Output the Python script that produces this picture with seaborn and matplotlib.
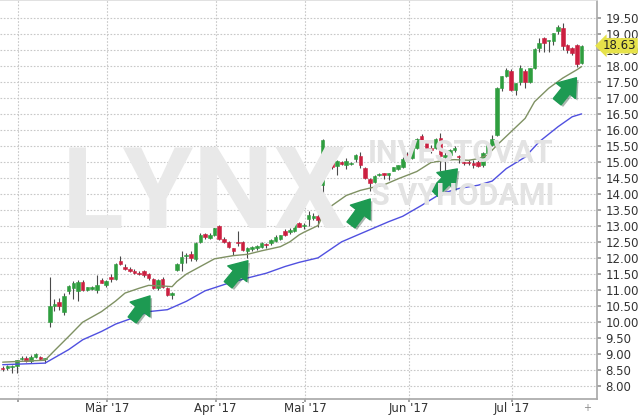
import matplotlib
matplotlib.use('Agg')
import matplotlib.pyplot as plt
import matplotlib.patheffects as pe
import numpy as np
import seaborn as sns

# daily candles, trading-day index 0..123 (late Jan .. late Jul 2017)
opens = [8.57, 8.57, 8.58, 8.62, 8.84, 8.88, 8.78, 8.90, 8.90, 8.84,
         10.00, 10.48, 10.62, 10.30, 10.95, 11.05, 10.95, 11.25, 11.00, 11.02,
         10.98, 11.32, 11.15, 11.40, 11.35, 11.90, 11.72, 11.65, 11.58, 11.52,
         11.58, 11.48, 11.35, 11.05, 11.35, 11.05, 10.85, 11.62, 11.85, 12.05,
         12.12, 11.95, 12.50, 12.75, 12.62, 12.72, 13.00, 12.60, 12.50, 12.30,
         12.50, 12.50, 12.20, 12.28, 12.30, 12.35, 12.43, 12.45, 12.52, 12.60,
         12.85, 12.82, 12.85, 13.08, 13.00, 13.20, 13.25, 13.32, 14.27, 15.31,
         15.00, 14.87, 15.00, 14.90, 14.94, 15.10, 15.19, 14.82, 14.45, 14.37,
         14.58, 14.64, 14.60, 14.73, 14.79, 14.84, 15.26, 15.12, 15.42, 15.82,
         15.60, 15.44, 15.44, 15.75, 15.14, 15.21, 15.37, 15.19, 15.00, 14.98,
         14.98, 15.00, 14.89, 15.29, 15.52, 15.84, 17.32, 17.70, 17.85, 17.25,
         17.51, 17.85, 17.51, 17.93, 18.56, 18.87, 18.79, 18.77, 19.08, 19.19,
         18.66, 18.56, 18.66, 18.09]
highs = [8.62, 8.65, 8.66, 8.82, 8.92, 8.92, 8.95, 9.02, 8.93, 8.87,
         11.40, 10.70, 10.75, 10.90, 11.15, 11.28, 11.30, 11.30, 11.10, 11.12,
         11.47, 11.38, 11.30, 11.50, 11.85, 12.05, 11.80, 11.72, 11.65, 11.58,
         11.62, 11.52, 11.38, 11.35, 11.40, 11.08, 10.92, 11.85, 12.20, 12.15,
         12.20, 12.50, 12.78, 12.78, 12.78, 12.95, 13.02, 12.65, 12.52, 12.32,
         12.85, 12.52, 12.33, 12.36, 12.40, 12.50, 12.48, 12.60, 12.70, 12.72,
         12.90, 12.92, 13.10, 13.12, 13.10, 13.45, 13.40, 13.38, 15.73, 15.35,
         15.20, 15.05, 15.02, 15.12, 15.00, 15.26, 15.31, 14.85, 14.50, 14.60,
         14.64, 14.66, 14.66, 14.85, 14.90, 15.15, 15.30, 15.45, 15.75, 15.86,
         15.62, 15.54, 15.75, 15.89, 15.30, 15.40, 15.50, 15.22, 15.05, 15.05,
         15.05, 15.05, 15.32, 15.60, 15.84, 17.35, 17.70, 17.93, 17.90, 17.46,
         18.03, 17.90, 17.95, 18.56, 18.87, 18.90, 18.82, 19.03, 19.27, 19.34,
         18.70, 18.60, 18.70, 18.66]
lows = [8.45, 8.50, 8.40, 8.40, 8.80, 8.75, 8.72, 8.86, 8.80, 8.70,
        9.85, 10.35, 10.38, 10.20, 10.88, 10.72, 10.65, 10.95, 10.95, 10.98,
        10.90, 11.20, 11.10, 11.25, 11.30, 11.78, 11.62, 11.55, 11.50, 11.47,
        11.40, 11.32, 11.02, 11.00, 11.05, 10.80, 10.72, 11.60, 11.60, 11.85,
        11.90, 11.90, 12.45, 12.60, 12.58, 12.68, 12.55, 12.45, 12.30, 12.10,
        12.38, 12.20, 12.00, 12.22, 12.25, 12.30, 12.30, 12.40, 12.50, 12.55,
        12.68, 12.75, 12.80, 12.95, 12.90, 13.00, 13.18, 12.98, 13.85, 14.90,
        14.79, 14.58, 14.90, 14.77, 14.90, 15.00, 14.81, 14.45, 14.08, 14.33,
        14.55, 14.45, 14.42, 14.70, 14.75, 14.80, 15.05, 15.10, 15.40, 15.65,
        15.40, 15.29, 15.40, 14.70, 14.70, 15.15, 15.30, 14.95, 14.90, 14.90,
        14.80, 14.85, 14.85, 15.25, 15.50, 15.80, 17.20, 17.65, 17.20, 17.09,
        17.41, 17.30, 17.45, 17.90, 18.45, 18.45, 18.45, 18.66, 19.00, 18.50,
        18.40, 18.35, 17.98, 18.05]
closes = [8.53, 8.62, 8.60, 8.80, 8.88, 8.78, 8.90, 8.98, 8.83, 8.85,
          10.48, 10.55, 10.50, 10.80, 11.12, 11.22, 11.25, 11.00, 11.08, 11.10,
          11.15, 11.22, 11.28, 11.33, 11.80, 11.80, 11.65, 11.58, 11.52, 11.50,
          11.45, 11.36, 11.05, 11.32, 11.08, 10.85, 10.90, 11.82, 12.02, 12.10,
          12.00, 12.45, 12.72, 12.65, 12.72, 12.92, 12.60, 12.50, 12.33, 12.22,
          12.45, 12.25, 12.30, 12.34, 12.36, 12.46, 12.40, 12.55, 12.66, 12.70,
          12.72, 12.88, 13.06, 12.98, 13.04, 13.35, 13.32, 13.18, 15.68, 14.95,
          14.85, 15.02, 14.92, 15.02, 14.98, 15.20, 14.89, 14.49, 14.35, 14.56,
          14.62, 14.60, 14.66, 14.83, 14.89, 15.10, 15.10, 15.42, 15.73, 15.68,
          15.44, 15.36, 15.73, 15.19, 15.20, 15.36, 15.42, 15.14, 14.95, 14.96,
          14.90, 14.88, 15.29, 15.54, 15.73, 17.32, 17.70, 17.88, 17.25, 17.46,
          17.95, 17.51, 17.93, 18.54, 18.71, 18.71, 18.80, 19.03, 19.21, 18.61,
          18.50, 18.40, 18.05, 18.63]

# moving averages (candle index, value)
ma_fast_idx = [0, 9, 11, 14, 17, 21, 24, 26, 29, 31, 34, 36, 37, 39, 42, 45,
               49, 52, 55, 59, 61, 63, 64, 67, 68, 70, 73, 76, 78, 81, 84, 88,
               91, 94, 96, 99, 101, 103, 105, 108, 111, 113, 116, 119, 122, 123]
ma_fast_val = [8.74, 8.80, 9.10, 9.54, 9.99, 10.32, 10.65, 10.90, 11.05, 11.14,
               11.12, 11.10, 11.26, 11.49, 11.73, 11.97, 12.07, 12.11, 12.22,
               12.35, 12.50, 12.72, 12.80, 13.01, 13.32, 13.64, 13.95, 14.11,
               14.18, 14.28, 14.47, 14.70, 14.98, 15.05, 15.07, 15.05, 15.10,
               15.21, 15.52, 15.94, 16.36, 16.88, 17.30, 17.62, 17.88, 17.98]
ma_slow_idx = [0, 9, 14, 17, 21, 24, 28, 31, 35, 39, 43, 48, 52, 56, 60, 63,
               67, 72, 75, 82, 85, 89, 93, 97, 101, 104, 107, 111, 114, 118,
               121, 123]
ma_slow_val = [8.66, 8.71, 9.13, 9.44, 9.70, 9.93, 10.14, 10.32, 10.38, 10.64,
               10.97, 11.21, 11.37, 11.52, 11.73, 11.86, 12.00, 12.50, 12.69,
               13.13, 13.30, 13.64, 14.00, 14.17, 14.27, 14.40, 14.79, 15.15,
               15.63, 16.10, 16.41, 16.50]

# first trading day of each month (Feb .. Jul)
month_start = [3, 22, 45, 64, 86, 108]
month_labels = ['', "Mär '17", "Apr '17", "Mai '17", "Jun '17", "Jul '17"]

# signal arrows (tail, head) in (index, price)
arrows = [((27.5, 10.06), (31.3, 10.81)),
          ((47.9, 11.16), (52.1, 11.91)),
          ((74.0, 13.03), (78.1, 13.84)),
          ((91.7, 14.03), (96.6, 14.78)),
          ((117.8, 16.88), (121.9, 17.63))]

last_price = 18.63

GREEN = '#2f9e3f'
RED = '#cc1f40'

sns.set_theme(style='white')
plt.rcParams['font.family'] = ['DejaVu Sans']

fig = plt.figure(figsize=(6.4, 4.16), dpi=100)
ax = fig.add_axes([0, 0.041, 0.933, 0.959])

# watermark
wm_font = ['Roboto', 'DejaVu Sans']
fig.text(62 / 640, 1 - 228 / 416, 'LYNX', fontsize=82, fontweight='bold',
         family=wm_font, color='#e9e9e9', ha='left', va='baseline', zorder=0)
fig.text(368 / 640, 1 - 162 / 416, 'INVESTOVAT', fontsize=22, fontweight='bold',
         family=wm_font, color='#e3e3e3', ha='left', va='baseline', zorder=0)
fig.text(371 / 640, 1 - 205 / 416, 'S VÝHODAMI', fontsize=22, fontweight='bold',
         family=wm_font, color='#e3e3e3', ha='left', va='baseline', zorder=0)
ax.patch.set_alpha(0)

o = np.array(opens)
c = np.array(closes)
idx = np.arange(len(o))
up = c >= o
colors = np.where(up, GREEN, RED)
body_lo = np.minimum(o, c)
body_h = np.maximum(np.abs(c - o), 0.025)

ax.vlines(idx, lows, highs, color='#4a4a4a', lw=0.8, zorder=3)
ax.bar(idx, body_h, bottom=body_lo, width=0.75, color=colors,
       edgecolor=colors, linewidth=0.4, zorder=4)

sns.lineplot(x=ma_fast_idx, y=ma_fast_val, ax=ax, color='#7f9163', lw=1.0, zorder=5)
sns.lineplot(x=ma_slow_idx, y=ma_slow_val, ax=ax, color='#5050e0', lw=1.0, zorder=5)

for tail, head in arrows:
    ax.annotate('', xy=head, xytext=tail, zorder=6,
                arrowprops=dict(arrowstyle='simple,head_length=1.1,head_width=1.6,tail_width=0.65',
                                mutation_scale=11, color='#1d9a52', shrinkA=0, shrinkB=0,
                                path_effects=[pe.SimplePatchShadow(offset=(1.5, -1.5), alpha=0.35),
                                              pe.Normal()]))

# axes
ax.set_xlim(-0.57, 126.3)
ax.set_ylim(7.59, 20.06)
ax.set_yticks(np.arange(8.0, 19.51, 0.5))
ax.yaxis.tick_right()
ax.yaxis.set_major_formatter(matplotlib.ticker.FormatStrFormatter('%.2f'))
ax.set_xticks(np.array(month_start) + 0.25)
ax.set_xticklabels(month_labels)
ax.tick_params(axis='y', labelsize=8.5, labelcolor='#333333', length=3,
               color='#999999', pad=3, right=True)
ax.tick_params(axis='x', labelsize=8.5, labelcolor='#333333', length=2,
               color='#999999', pad=0.5, bottom=True)
ax.grid(True, color='#c8c8c8', linestyle=(0, (1.5, 1.5)), linewidth=0.8)
ax.set_axisbelow(True)
ax.spines['left'].set_visible(False)
ax.spines['top'].set_color('#dddddd')
ax.spines['right'].set_color('#aaaaaa')
ax.spines['bottom'].set_color('#aaaaaa')
ax.set_xlabel('')
ax.set_ylabel('')

# last price tag
ax.annotate(f'{last_price:.2f}', xy=(1.0, last_price),
            xycoords=('axes fraction', 'data'), xytext=(6, 0),
            textcoords='offset pixels', ha='left', va='center', fontsize=8.5,
            color='#222222', zorder=10, annotation_clip=False,
            bbox=dict(boxstyle='larrow,pad=0.1', fc='#e6e24a', ec='none'))

fig.text(587 / 640, 1 - 408 / 416, '+', fontsize=7, color='#888888',
         ha='center', va='center')

fig.savefig('out.png', dpi=100)
